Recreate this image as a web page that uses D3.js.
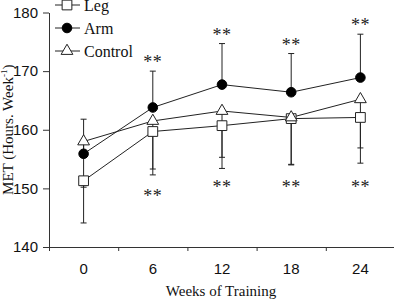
<!DOCTYPE html>
<html lang="en">
<meta charset="utf-8">
<head>
    <title>MET by Weeks of Training</title>
    <script src="https://cdn.jsdelivr.net/npm/d3@7"></script>
    <style>
        body { margin: 0; background: #fff; }
        svg { font-family: "Liberation Serif", "Times New Roman", serif; }
        .axis path, .axis line { stroke: #333; stroke-width: 1px; }
        .axis text { font-size: 15px; fill: #111; }
        .sig { font-size: 18px; fill: #222; letter-spacing: 0.5px; }
    </style>
</head>
<body>
<script>
    // data
    const weeks = [0, 6, 12, 18, 24];
    const yTicks = [140, 150, 160, 170, 180];

    const legMean = [151.3, 159.7, 160.7, 161.9, 162.1];
    const legLower = [144.1, 152.3, 153.4, 154.1, 154.3];

    const armMean = [155.9, 163.8, 167.7, 166.4, 168.9];
    const armUpper = [161.8, 170.0, 174.7, 173.0, 176.3];

    const controlMean = [158.0, 161.5, 163.2, 162.1, 165.2];
    const controlLower = [150.2, 153.3, 155.3, 154.0, 156.9];

    // significance marks ("**") above arm and below the groups
    const sigTop = [false, true, true, true, true];
    const sigBottomAt = [null, 149.2, 150.7, 150.7, 150.7];

    const W = 394, H = 300;
    const margin = { top: 12.5, right: 0, bottom: 53, left: 49 };

    const svg = d3.select("body").append("svg")
        .attr("width", W)
        .attr("height", H);

    // weeks on a linear scale, half a step padding each side
    const x = d3.scaleLinear().domain([-3, 27]).range([margin.left, 395]);
    const y = d3.scaleLinear().domain([140, 180]).range([H - margin.bottom, margin.top]);

    // y axis
    svg.append("g")
        .attr("class", "axis")
        .attr("transform", `translate(${margin.left},0)`)
        .call(d3.axisLeft(y).tickValues(yTicks).tickSize(6).tickSizeOuter(0).tickPadding(5));

    // x axis: ticks between the weeks, labels under the weeks
    const xAxis = svg.append("g")
        .attr("class", "axis")
        .attr("transform", `translate(0,${y(140)})`);
    xAxis.call(d3.axisBottom(x).tickValues([-3, 3, 9, 15, 21, 27]).tickSize(4).tickSizeOuter(0).tickFormat(""));
    xAxis.selectAll(".wk")
        .data(weeks)
        .enter().append("text")
        .attr("class", "wk")
        .attr("x", d => x(d))
        .attr("y", 27)
        .attr("text-anchor", "middle")
        .style("font-size", "15px")
        .attr("fill", "#111")
        .text(d => d);

    svg.append("text")
        .attr("x", 221)
        .attr("y", 296)
        .attr("text-anchor", "middle")
        .style("font-size", "15px")
        .attr("fill", "#111")
        .text("Weeks of Training");

    const yl = svg.append("text")
        .attr("transform", `translate(13,${(y(140) + y(180)) / 2}) rotate(-90)`)
        .attr("text-anchor", "middle")
        .style("font-size", "15px")
        .attr("fill", "#111");
    yl.append("tspan").text("MET (Hours. Week");
    yl.append("tspan").attr("dy", -6).style("font-size", "9px").text("-1");
    yl.append("tspan").attr("dy", 6).text(")");

    const ink = "#222";
    const cap = 3;

    // error bars
    function errBars(mean, end) {
        const g = svg.append("g").attr("stroke", ink).attr("stroke-width", 1);
        weeks.forEach((w, i) => {
            g.append("line")
                .attr("x1", x(w)).attr("x2", x(w))
                .attr("y1", y(mean[i])).attr("y2", y(end[i]));
            g.append("line")
                .attr("x1", x(w) - cap).attr("x2", x(w) + cap)
                .attr("y1", y(end[i])).attr("y2", y(end[i]));
        });
    }
    errBars(legMean, legLower);
    errBars(controlMean, controlLower);
    errBars(armMean, armUpper);

    // connecting lines
    const line = d3.line().x((d, i) => x(weeks[i])).y(d => y(d));
    [legMean, controlMean, armMean].forEach(s => {
        svg.append("path")
            .datum(s)
            .attr("fill", "none")
            .attr("stroke", ink)
            .attr("stroke-width", 1)
            .attr("d", line);
    });

    // markers
    const sq = d3.symbol().type(d3.symbolSquare).size(95);
    const tri = d3.symbol().type(d3.symbolTriangle).size(60);

    function drawMarker(g, kind, cx, cy) {
        if (kind === "square") {
            g.append("path").attr("d", sq())
                .attr("transform", `translate(${cx},${cy})`)
                .attr("fill", "#fff").attr("stroke", ink).attr("stroke-width", 1);
        } else if (kind === "triangle") {
            g.append("path").attr("d", tri())
                .attr("transform", `translate(${cx},${cy})`)
                .attr("fill", "#fff").attr("stroke", ink).attr("stroke-width", 1);
        } else {
            g.append("circle").attr("cx", cx).attr("cy", cy).attr("r", 4.8)
                .attr("fill", "#000").attr("stroke", "#000");
        }
    }

    const mk = svg.append("g");
    weeks.forEach((w, i) => drawMarker(mk, "square", x(w), y(legMean[i])));
    weeks.forEach((w, i) => drawMarker(mk, "triangle", x(w), y(controlMean[i])));
    weeks.forEach((w, i) => drawMarker(mk, "circle", x(w), y(armMean[i])));

    // significance asterisks
    weeks.forEach((w, i) => {
        if (sigTop[i]) {
            svg.append("text")
                .attr("class", "sig")
                .attr("x", x(w)).attr("y", y(armUpper[i]) - 3)
                .attr("text-anchor", "middle")
                .text("**");
        }
        if (sigBottomAt[i] !== null) {
            svg.append("text")
                .attr("class", "sig")
                .attr("x", x(w)).attr("y", y(sigBottomAt[i]) + 9)
                .attr("text-anchor", "middle")
                .text("**");
        }
    });

    // legend
    const legendItems = [
        { name: "Leg", kind: "square" },
        { name: "Arm", kind: "circle" },
        { name: "Control", kind: "triangle" }
    ];
    const lg = svg.append("g");
    legendItems.forEach((d, i) => {
        const cy = 5 + i * 23;
        lg.append("line")
            .attr("x1", 55).attr("x2", 80)
            .attr("y1", cy).attr("y2", cy)
            .attr("stroke", ink);
        drawMarker(lg, d.kind, 67, cy);
        lg.append("text")
            .attr("x", 84).attr("y", cy)
            .attr("dy", "0.35em")
            .style("font-size", "16px")
            .attr("fill", "#111")
            .text(d.name);
    });
</script>
</body>
</html>
